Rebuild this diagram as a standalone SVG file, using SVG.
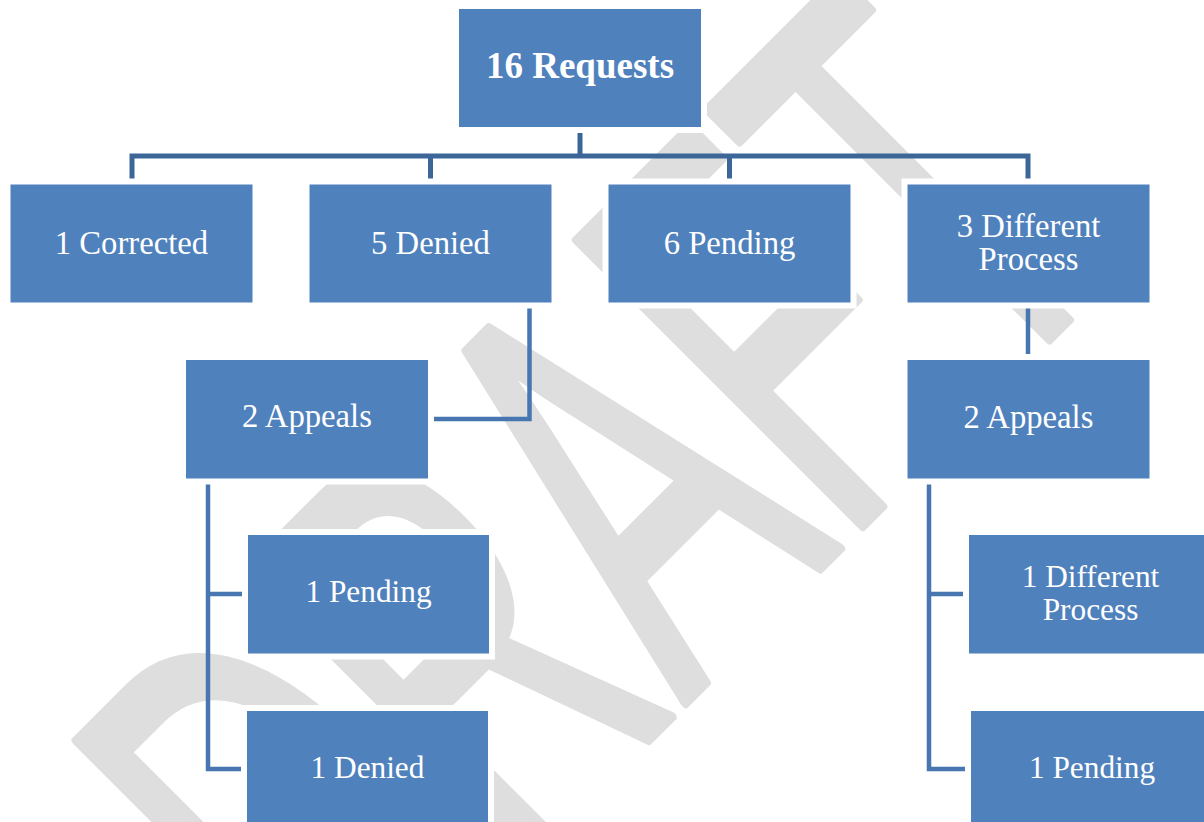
<svg xmlns="http://www.w3.org/2000/svg" width="1204" height="822" viewBox="0 0 1204 822">
  <style>
    .box { fill: #4f81bd; stroke: #ffffff; stroke-width: 12; paint-order: stroke; }
    .lbl { font-family: "Liberation Serif", "Times New Roman", serif; fill: #ffffff; text-anchor: middle; font-size: 32.7px; }
    .sm { font-size: 31.3px; }
    .title { font-weight: bold; font-size: 37px; }
    .top { fill: none; stroke: #3d6698; stroke-width: 5; }
    .sub { fill: none; stroke: #4876b0; stroke-width: 4.5; }
    .wm { font-family: "Liberation Sans", Arial, sans-serif; font-size: 587px; fill: #dedede; stroke: #dedede; stroke-width: 8; stroke-linejoin: round; }
  </style>
  <rect width="1204" height="822" fill="#ffffff"/>
  <text class="wm" transform="translate(341.5,1047) rotate(-45) scale(0.571,1)" vector-effect="non-scaling-stroke">DRAFT</text>

  <g id="connectors">
    <path class="top" d="M132,184 V156 H1028 V184 M580,127 V156 M430.5,156 V184 M729.5,156 V184"/>
    <path class="sub" d="M529.5,302 V419 H428"/>
    <path class="sub" d="M208,478 V769 H247 M208,594 H248"/>
    <path class="sub" d="M1028,302 V360"/>
    <path class="sub" d="M929,478 V769 H971 M929,594 H969"/>
  </g>

  <g id="n-requests">
    <rect class="box" x="459" y="9" width="242" height="118"/>
    <text class="lbl title" x="580" y="77.5">16 Requests</text>
  </g>
  <g id="n-corrected">
    <rect class="box" x="10.5" y="184.5" width="242" height="118"/>
    <text class="lbl" x="131.5" y="254">1 Corrected</text>
  </g>
  <g id="n-denied5">
    <rect class="box" x="309.5" y="184.5" width="242" height="118"/>
    <text class="lbl" x="430.5" y="254">5 Denied</text>
  </g>
  <g id="n-pending6">
    <rect class="box" x="608.5" y="184.5" width="242" height="118"/>
    <text class="lbl" x="729.5" y="253.5">6 Pending</text>
  </g>
  <g id="n-different3">
    <rect class="box" x="907.5" y="184.5" width="242" height="118"/>
    <text class="lbl" x="1028.5" y="236.7">3 Different</text>
    <text class="lbl" x="1028.5" y="270">Process</text>
  </g>
  <g id="n-appeals-left">
    <rect class="box" x="186" y="360" width="242" height="118.5"/>
    <text class="lbl" x="307" y="427">2 Appeals</text>
  </g>
  <g id="n-appeals-right">
    <rect class="box" x="907.5" y="360" width="242" height="118.5"/>
    <text class="lbl" x="1028.5" y="428.3">2 Appeals</text>
  </g>
  <g id="n-pending-left">
    <rect class="box" x="248" y="535" width="241" height="118.5"/>
    <text class="lbl sm" x="368.5" y="601.7">1 Pending</text>
  </g>
  <g id="n-denied-left">
    <rect class="box" x="247" y="711" width="241" height="118.5"/>
    <text class="lbl sm" x="367.5" y="777.5">1 Denied</text>
  </g>
  <g id="n-different-right">
    <rect class="box" x="969" y="535" width="242" height="118.5"/>
    <text class="lbl sm" x="1090.5" y="586.7">1 Different</text>
    <text class="lbl sm" x="1090.5" y="620">Process</text>
  </g>
  <g id="n-pending-right">
    <rect class="box" x="971" y="711" width="242" height="118.5"/>
    <text class="lbl sm" x="1092" y="778.3">1 Pending</text>
  </g>
</svg>
